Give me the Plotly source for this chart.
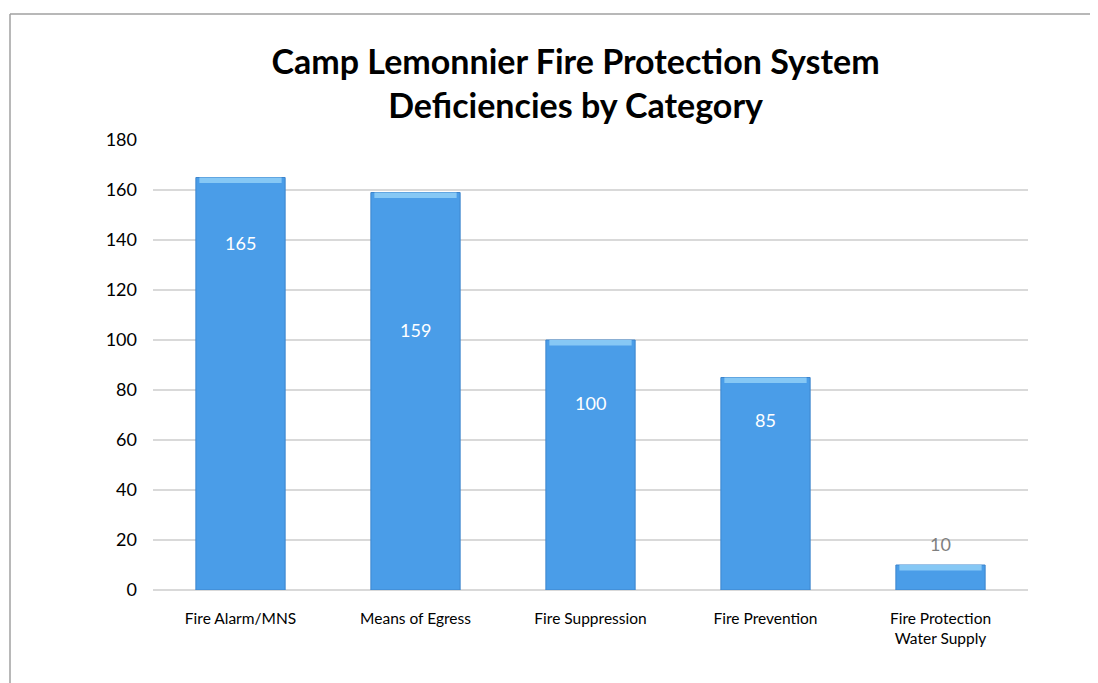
import plotly.graph_objects as go

categories = ["Fire Alarm/MNS", "Means of Egress", "Fire Suppression", "Fire Prevention",
              "Fire Protection<br>Water Supply"]
values = [165, 159, 100, 85, 10]
label_text = ["165", "159", "100", "85", "10"]
label_y = [139, 104, 75, 68, 18.4]
label_color = ["white", "white", "white", "white", "#7F7F7F"]

bar_color = "#4A9DE8"
bevel_color = "#86C8F5"
bevel_h = 2.2
FONT = "Lato, Open Sans, sans-serif"

fig = go.Figure()
fig.add_trace(go.Bar(x=categories, y=values, marker=dict(color=bar_color,
                     line=dict(color="#3C84CC", width=1)), width=0.51, hoverinfo="skip"))
fig.add_trace(go.Bar(x=categories, y=[bevel_h] * len(values),
                     base=[v - bevel_h for v in values],
                     marker=dict(color=bevel_color, line=dict(width=0)), width=0.47, hoverinfo="skip"))

for c, t, ly, col in zip(categories, label_text, label_y, label_color):
    fig.add_annotation(x=c, y=ly, text=t, showarrow=False,
                       font=dict(family=FONT, size=18, color=col))

fig.update_layout(
    width=1098, height=683,
    margin=dict(l=145, r=78, t=132, b=101),
    barmode="overlay",
    showlegend=False,
    paper_bgcolor="white", plot_bgcolor="white",
    title=dict(text="<b>Camp Lemonnier Fire Protection System<br>Deficiencies by Category</b>",
               xref="paper", x=0.483, xanchor="center", y=0.903, yanchor="middle",
               font=dict(family=FONT, size=34, color="black")),
    font=dict(family=FONT, size=15, color="black"),
)
fig.update_yaxes(range=[0, 180], dtick=20, showgrid=True, gridcolor="#D9D9D9", gridwidth=1.5,
                 zeroline=True, zerolinecolor="#D9D9D9", zerolinewidth=1.5,
                 ticks="", ticklabelstandoff=15, tickfont=dict(size=18))
fig.update_xaxes(showgrid=False, ticks="", tickfont=dict(size=15.5), ticklabelstandoff=17)

# outer chart border (top and left visible)
fig.add_shape(type="line", xref="paper", yref="paper", x0=(10 - 153) / 875, x1=(1100 - 153) / 875,
              y0=(590 - 14) / 450, y1=(590 - 14) / 450, line=dict(color="#A0A0A0", width=1.5))
fig.add_shape(type="line", xref="paper", yref="paper", x0=(10 - 153) / 875, x1=(10 - 153) / 875,
              y0=(590 - 14) / 450, y1=(590 - 690) / 450, line=dict(color="#A0A0A0", width=1.5))

fig.write_html("out.html")
